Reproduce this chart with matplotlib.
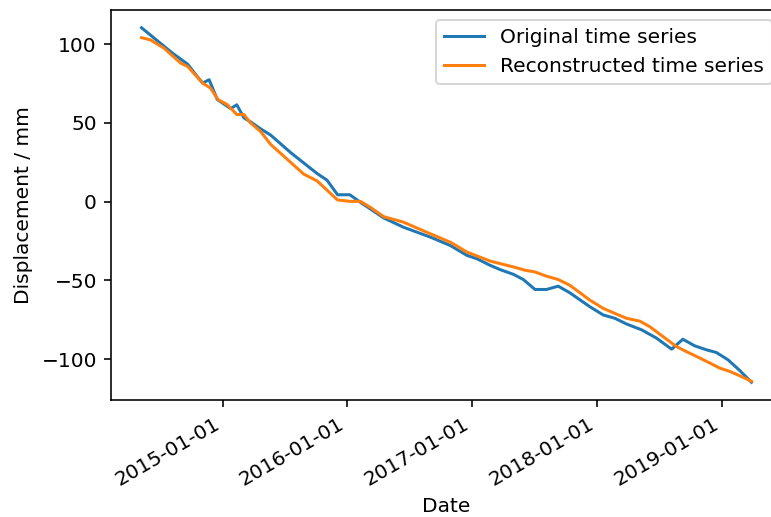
"""Original vs reconstructed displacement time series."""
import matplotlib

matplotlib.use("Agg")
import matplotlib.dates as mdates  # noqa: E402
import matplotlib.pyplot as plt  # noqa: E402
import pandas as pd  # noqa: E402

# 原始时间序列
orig_dates = [
    "2014-05-08", "2014-08-07", "2014-09-20", "2014-10-14", "2014-11-03",
    "2014-11-22", "2014-12-16", "2015-01-24", "2015-02-11", "2015-03-04",
    "2015-03-23", "2015-04-22", "2015-05-21", "2015-07-19", "2015-10-04",
    "2015-11-02", "2015-12-03", "2016-01-08", "2016-02-08", "2016-03-08",
    "2016-04-16", "2016-06-13", "2016-08-31", "2016-10-28", "2016-12-16",
    "2017-01-14", "2017-02-22", "2017-03-23", "2017-05-01", "2017-05-30",
    "2017-07-03", "2017-08-06", "2017-09-09", "2017-10-13", "2017-12-11",
    "2018-01-19", "2018-02-22", "2018-03-28", "2018-05-12", "2018-06-24",
    "2018-08-07", "2018-09-09", "2018-10-14", "2018-11-17", "2018-12-16",
    "2019-01-19", "2019-02-22", "2019-03-29",
]
orig_vals = [
    110.4, 94.2, 87.3, 80.6, 75.3,
    77.4, 64.8, 59.1, 61.5, 53.2,
    50.7, 46.2, 42.3, 31.1, 17.9,
    13.7, 4.4, 4.4, -0.4, -4.6,
    -10.3, -16.2, -22.5, -27.8, -34.1,
    -36.2, -40.4, -43.1, -46.1, -49.4,
    -55.7, -55.7, -53.6, -57.8, -66.7,
    -71.9, -74.0, -77.6, -81.4, -86.6,
    -93.6, -87.3, -91.5, -94.0, -95.7,
    -100.3, -107.0, -114.6,
]

# 重建时间序列
recon_dates = [
    "2014-05-08", "2014-06-04", "2014-07-13", "2014-08-07", "2014-08-31",
    "2014-09-20", "2014-11-03", "2014-11-26", "2014-12-18", "2015-01-14",
    "2015-02-11", "2015-03-04", "2015-03-23", "2015-04-22", "2015-05-21",
    "2015-08-26", "2015-10-04", "2015-12-03", "2016-01-08", "2016-02-08",
    "2016-03-08", "2016-04-16", "2016-06-13", "2016-08-31", "2016-10-28",
    "2016-12-16", "2017-02-22", "2017-03-23", "2017-05-01", "2017-06-04",
    "2017-07-03", "2017-08-06", "2017-09-09", "2017-10-13", "2017-12-11",
    "2018-01-19", "2018-02-22", "2018-03-28", "2018-05-06", "2018-06-04",
    "2018-07-13", "2018-08-21", "2018-09-19", "2018-10-19", "2018-11-27",
    "2018-12-26", "2019-01-24", "2019-02-22", "2019-03-29",
]
recon_vals = [
    104.1, 102.6, 97.4, 92.5, 87.9,
    85.8, 75.3, 72.1, 64.8, 61.6,
    55.3, 55.3, 50.0, 44.5, 36.4,
    17.5, 13.2, 1.1, 0.2, 0.2,
    -3.6, -9.5, -13.0, -20.4, -25.7,
    -32.0, -37.7, -39.3, -41.4, -43.5,
    -44.6, -47.3, -49.4, -53.0, -62.5,
    -67.7, -70.9, -74.0, -75.8, -79.3,
    -85.6, -91.9, -95.1, -98.2, -102.4,
    -105.6, -107.7, -110.4, -114.0,
]

DPI = 145  # 原图大约是 ~145 dpi 下的默认样式

fig = plt.figure(figsize=(771 / DPI, 517 / DPI), dpi=DPI)
# 右边框在原图之外 (被裁掉了)
ax = fig.add_axes([111 / 771, 117 / 517, 671 / 771, 390 / 517])
ax.plot(pd.to_datetime(orig_dates), orig_vals, label="Original time series")
ax.plot(pd.to_datetime(recon_dates), recon_vals, label="Reconstructed time series")
ax.xaxis.set_major_locator(mdates.YearLocator())
ax.xaxis.set_major_formatter(mdates.DateFormatter("%Y-%m-%d"))
for lbl in ax.get_xticklabels():
    lbl.set_rotation(30)
    lbl.set_ha("right")
ax.set_xlabel("Date")
ax.set_ylabel("Displacement / mm")
ax.legend(loc="upper right")
fig.savefig("out.png", dpi=DPI)
plt.close(fig)
